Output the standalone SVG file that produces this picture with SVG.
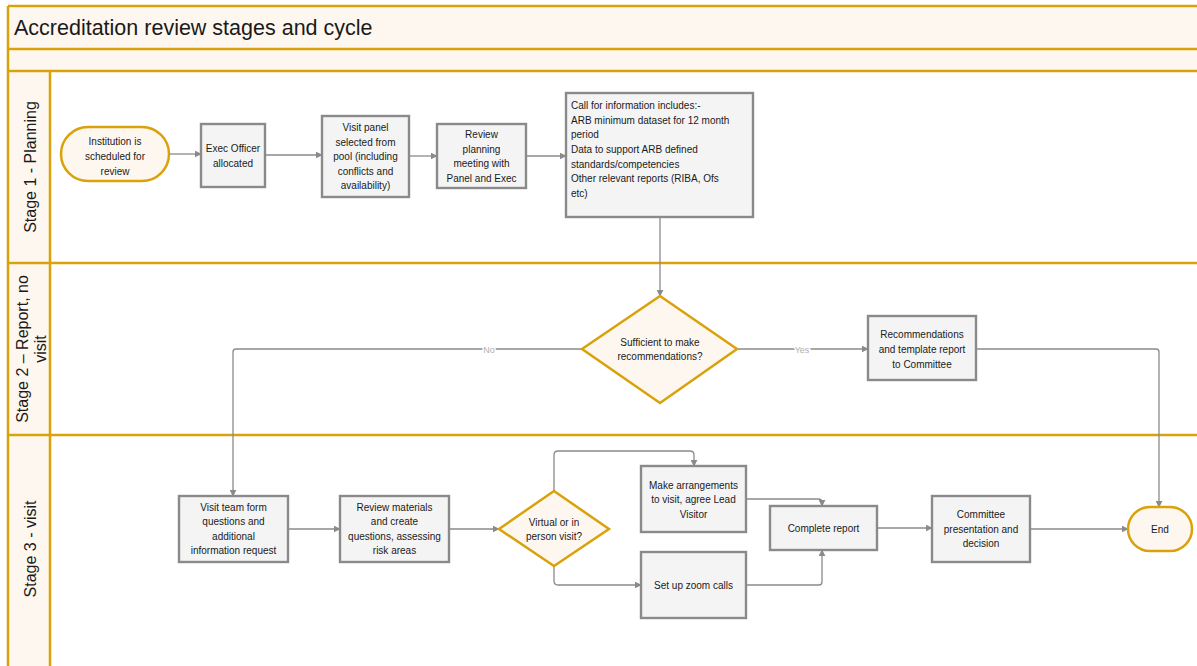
<svg xmlns="http://www.w3.org/2000/svg" width="1197" height="666" viewBox="0 0 1197 666">
<style>
.lane{stroke:#d9a20b;stroke-width:2.5;fill:none}
.band{fill:#fef7ef}
.box{fill:#f4f4f4;stroke:#8a8a8a;stroke-width:2.4}
.term{fill:#fef7ef;stroke:#d9a20b;stroke-width:2.5}
.t{font-family:"Liberation Sans",Arial,sans-serif;font-size:10px;fill:#1a1a1a;text-anchor:middle}
.tl{font-family:"Liberation Sans",Arial,sans-serif;font-size:10px;fill:#1a1a1a}
.lab{font-family:"Liberation Sans",Arial,sans-serif;font-size:16px;fill:#1a1a1a;text-anchor:middle}
.c{fill:none;stroke:#8a8a8a;stroke-width:1.3;marker-end:url(#ah)}
.cl{font-family:"Liberation Sans",Arial,sans-serif;font-size:9px;fill:#b0b0b0;text-anchor:middle;stroke:#fff;stroke-width:3;paint-order:stroke}
</style>
<defs>
<marker id="ah" viewBox="0 0 10 10" refX="9" refY="5" markerWidth="7" markerHeight="7" markerUnits="userSpaceOnUse" orient="auto">
<path d="M0,0 L10,5 L0,10 z" fill="#8a8a8a"/>
</marker>
</defs>
<rect width="1197" height="666" fill="#ffffff"/>
<g id="pool">
<rect class="band" x="8" y="6" width="1195" height="65"/>
<rect class="band" x="8" y="71" width="42" height="600"/>
<line class="lane" x1="8" y1="6" x2="1197" y2="6"/>
<line class="lane" x1="8" y1="49" x2="1197" y2="49"/>
<line class="lane" x1="8" y1="71" x2="1197" y2="71"/>
<line class="lane" x1="8" y1="263" x2="1197" y2="263"/>
<line class="lane" x1="8" y1="435" x2="1197" y2="435"/>
<line class="lane" x1="8" y1="6" x2="8" y2="666"/>
<line class="lane" x1="50" y1="71" x2="50" y2="666"/>
<text x="14" y="35" font-family="'Liberation Sans',Arial,sans-serif" font-size="21.5" fill="#1a1a1a">Accreditation review stages and cycle</text>
<text class="lab" transform="translate(36,167) rotate(-90)">Stage 1 - Planning</text>
<text class="lab" transform="translate(28,349) rotate(-90)">Stage 2 – Report, no</text>
<text class="lab" transform="translate(46,349) rotate(-90)">visit</text>
<text class="lab" transform="translate(36,549) rotate(-90)">Stage 3 - visit</text>
</g>
<g id="connectors">
<path class="c" d="M169,154 H201"/>
<path class="c" d="M265,155 H322"/>
<path class="c" d="M409,156 H437"/>
<path class="c" d="M526,156 H566"/>
<path class="c" d="M660,217 V296"/>
<path class="c" d="M582,349 H236 Q233,349 233,352 V496"/>
<text class="cl" x="489" y="353">No</text>
<path class="c" d="M737,349 H868"/>
<text class="cl" x="802" y="353">Yes</text>
<path class="c" d="M976,349 H1156 Q1159,349 1159,352 V507"/>
<path class="c" d="M288,529 H340"/>
<path class="c" d="M449,529 H499"/>
<path class="c" d="M554,491 V455 Q554,451 558,451 H690 Q694,451 694,455 V466"/>
<path class="c" d="M554,566 V581 Q554,585 558,585 H641"/>
<path class="c" d="M746,499 H818 Q822,499 822,502 V506"/>
<path class="c" d="M746,585 H819 Q822,585 822,582 V550"/>
<path class="c" d="M877,528 H932"/>
<path class="c" d="M1030,529 H1128"/>
</g>
<g id="n1"><rect class="term" x="61" y="127" width="108" height="54" rx="27"/>
<text class="t" x="115" y="144.5">Institution is</text><text class="t" x="115" y="159.5">scheduled for</text><text class="t" x="115" y="174.5">review</text></g>
<g id="n2"><rect class="box" x="201" y="124" width="64" height="63"/>
<text class="t" x="233" y="151.5">Exec Officer</text><text class="t" x="233" y="166.5">allocated</text></g>
<g id="n3"><rect class="box" x="322" y="116" width="87" height="81"/>
<text class="t" x="365.5" y="130.5">Visit panel</text><text class="t" x="365.5" y="145.5">selected from</text><text class="t" x="365.5" y="159.5">pool (including</text><text class="t" x="365.5" y="174.5">conflicts and</text><text class="t" x="365.5" y="188.5">availability)</text></g>
<g id="n4"><rect class="box" x="437" y="124" width="89" height="64"/>
<text class="t" x="481.5" y="137.5">Review</text><text class="t" x="481.5" y="152.5">planning</text><text class="t" x="481.5" y="166.5">meeting with</text><text class="t" x="481.5" y="181.5">Panel and Exec</text></g>
<g id="n5"><rect class="box" x="566" y="93" width="187" height="124"/>
<text class="tl" x="571" y="108.5">Call for information includes:-</text>
<text class="tl" x="571" y="123.5">ARB minimum dataset for 12 month</text>
<text class="tl" x="571" y="137.5">period</text>
<text class="tl" x="571" y="152.5">Data to support ARB defined</text>
<text class="tl" x="571" y="167.5">standards/competencies</text>
<text class="tl" x="571" y="181.5">Other relevant reports (RIBA, Ofs</text>
<text class="tl" x="571" y="196.5">etc)</text></g>
<g id="n6"><path class="term" d="M660,296 L737,349 L660,403 L582,349 Z"/>
<text class="t" x="660" y="345.5">Sufficient to make</text><text class="t" x="660" y="359.5">recommendations?</text></g>
<g id="n7"><rect class="box" x="868" y="316" width="108" height="64"/>
<text class="t" x="922" y="337.5">Recommendations</text><text class="t" x="922" y="352.5">and template report</text><text class="t" x="922" y="367.5">to Committee</text></g>
<g id="n8"><rect class="box" x="179" y="496" width="109" height="66"/>
<text class="t" x="233.5" y="510.5">Visit team form</text><text class="t" x="233.5" y="524.5">questions and</text><text class="t" x="233.5" y="539.5">additional</text><text class="t" x="233.5" y="553.5">information request</text></g>
<g id="n9"><rect class="box" x="340" y="496" width="109" height="66"/>
<text class="t" x="394.5" y="510.5">Review materials</text><text class="t" x="394.5" y="524.5">and create</text><text class="t" x="394.5" y="539.5">questions, assessing</text><text class="t" x="394.5" y="553.5">risk areas</text></g>
<g id="n10"><path class="term" d="M554,491 L609,529 L554,566 L499,529 Z"/>
<text class="t" x="554" y="525.5">Virtual or in</text><text class="t" x="554" y="539.5">person visit?</text></g>
<g id="n11"><rect class="box" x="641" y="466" width="105" height="66"/>
<text class="t" x="693.5" y="488.5">Make arrangements</text><text class="t" x="693.5" y="502.5">to visit, agree Lead</text><text class="t" x="693.5" y="517.5">Visitor</text></g>
<g id="n12"><rect class="box" x="641" y="552" width="105" height="66"/>
<text class="t" x="693.5" y="588.5">Set up zoom calls</text></g>
<g id="n13"><rect class="box" x="770" y="506" width="107" height="44"/>
<text class="t" x="823.5" y="531.5">Complete report</text></g>
<g id="n14"><rect class="box" x="932" y="496" width="98" height="66"/>
<text class="t" x="981" y="517.5">Committee</text><text class="t" x="981" y="532.5">presentation and</text><text class="t" x="981" y="546.5">decision</text></g>
<g id="n15"><rect class="term" x="1128" y="507" width="64" height="44" rx="22"/>
<text class="t" x="1160" y="532.5">End</text></g>
</svg>
